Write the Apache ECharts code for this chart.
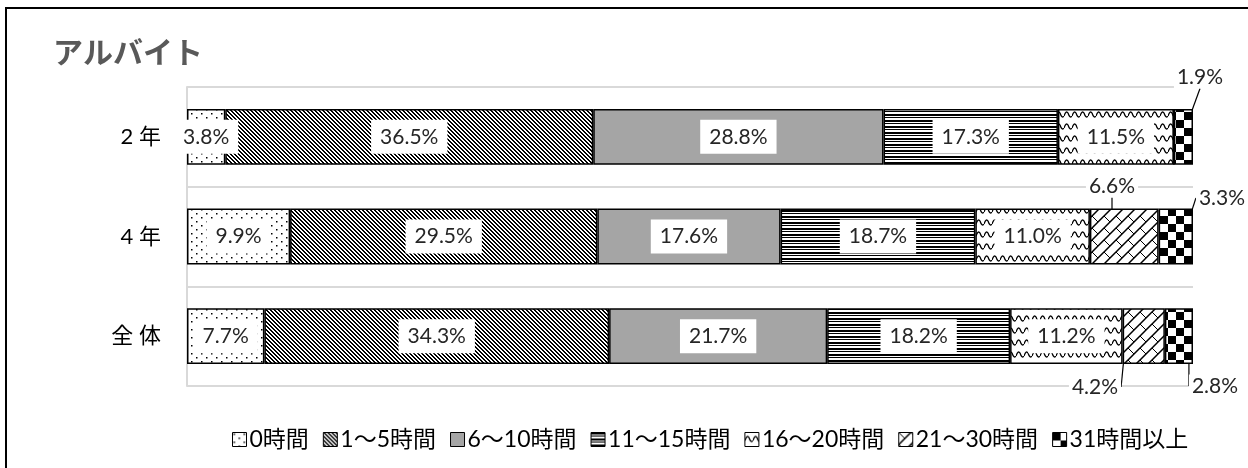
<!DOCTYPE html>
<html>
<head>
<meta charset="utf-8">
<script src="https://cdn.jsdelivr.net/npm/echarts@6/dist/echarts.min.js"></script>
<style>
  html, body { margin: 0; padding: 0; background: #fff; }
  #main { width: 1248px; height: 468px; }
</style>
</head>
<body>
<div id="main"></div>
<script>
// 集計値（%）
var categories = ['2年', '4年', '全体'];
var seriesNames = ['0時間', '1〜5時間', '6〜10時間', '11〜15時間', '16〜20時間', '21〜30時間', '31時間以上'];
var h0 = [3.8, 9.9, 7.7];
var h1to5 = [36.5, 29.5, 34.3];
var h6to10 = [28.8, 17.6, 21.7];
var h11to15 = [17.3, 18.7, 18.2];
var h16to20 = [11.5, 11.0, 11.2];
var h21to30 = [0, 6.6, 4.2];
var h31over = [1.9, 3.3, 2.8];
var allValues = [h0, h1to5, h6to10, h11to15, h16to20, h21to30, h31over];

// 外側に出すラベルの位置 (seriesIndex-dataIndex)
var outsidePos = {
    '6-0': [1200, 77],
    '5-1': [1112, 186],
    '6-1': [1222, 198],
    '5-2': [1095, 387],
    '6-2': [1215, 386]
};

// 模様の作成
function makeCanvas(w, h, draw) {
    var c = document.createElement('canvas');
    c.width = w; c.height = h;
    var ctx = c.getContext('2d');
    ctx.fillStyle = '#fff';
    ctx.fillRect(0, 0, w, h);
    ctx.fillStyle = '#000';
    ctx.strokeStyle = '#000';
    draw(ctx);
    return { image: c, repeat: 'repeat' };
}
var patterns = [
    // 点
    makeCanvas(10, 8, function (ctx) {
        ctx.fillRect(1, 1, 1.5, 1.5);
        ctx.fillRect(6, 5, 1.5, 1.5);
    }),
    // 斜線
    makeCanvas(4, 4, function (ctx) {
        for (var i = 0; i < 4; i++) {
            ctx.fillRect(i, i, 1, 1);
            ctx.fillRect((i + 1) % 4, i, 1, 1);
        }
    }),
    '#a5a5a5',
    // 横線
    makeCanvas(4, 6, function (ctx) {
        ctx.fillRect(0, 0, 4, 2);
        ctx.fillRect(0, 3, 4, 1);
    }),
    // 波線
    makeCanvas(8, 12, function (ctx) {
        ctx.lineWidth = 1.3;
        ctx.beginPath();
        ctx.moveTo(0, 8);
        ctx.quadraticCurveTo(2, 2, 4, 5);
        ctx.quadraticCurveTo(6, 11, 8, 8);
        ctx.stroke();
    }),
    // 格子斜線
    makeCanvas(12, 12, function (ctx) {
        ctx.lineWidth = 1.5;
        ctx.beginPath();
        ctx.moveTo(-1, 13); ctx.lineTo(13, -1);
        ctx.moveTo(-1, 1); ctx.lineTo(1, -1);
        ctx.moveTo(11, 13); ctx.lineTo(13, 11);
        ctx.stroke();
        ctx.lineWidth = 1;
        ctx.beginPath();
        ctx.moveTo(0, 0); ctx.lineTo(6, 6);
        ctx.stroke();
    }),
    // 市松
    makeCanvas(16, 16, function (ctx) {
        ctx.fillRect(0, 0, 8, 8);
        ctx.fillRect(8, 8, 8, 8);
    })
];

var rowSum = categories.map(function (c, i) {
    var s = 0;
    allValues.forEach(function (arr) { s += arr[i]; });
    return s;
});

var fontFamily = "Lato, 'Noto Sans CJK JP', sans-serif";

var series = seriesNames.map(function (name, si) {
    var data = categories.map(function (c, ci) {
        var raw = allValues[si][ci];
        var item = { value: raw / rowSum[ci] * 100 };
        if (raw === 0) {
            item.label = { show: false };
        } else if (outsidePos[si + '-' + ci]) {
            item.labelLine = { show: true };
            item.label = { padding: [1, 3] };
        }
        return item;
    });
    return {
        name: name,
        type: 'bar',
        stack: 'total',
        barWidth: '56%',
        data: data,
        itemStyle: { color: patterns[si], borderColor: '#000', borderWidth: 1.5 },
        label: {
            show: true,
            position: 'inside',
            fontFamily: fontFamily,
            fontSize: 21,
            color: '#262626',
            backgroundColor: '#fff',
            padding: [7, 9, 6, 9],
            formatter: function (p) {
                return allValues[p.seriesIndex][p.dataIndex].toFixed(1) + '%';
            }
        },
        labelLine: { show: false, lineStyle: { color: '#000', width: 1.2 } },
        labelLayout: function (p) {
            var pos = outsidePos[p.seriesIndex + '-' + p.dataIndex];
            if (!pos) return {};
            return { x: pos[0], y: pos[1], align: 'center', verticalAlign: 'middle' };
        },
        emphasis: { disabled: true }
    };
});

var chart = echarts.init(document.getElementById('main'));
chart.setOption({
    animation: false,
    backgroundColor: '#fff',
    title: {
        text: 'アルバイト',
        left: 48,
        top: 33,
        textStyle: { fontFamily: fontFamily, fontSize: 30, fontWeight: 'bold', color: '#595959' }
    },
    graphic: [{
        type: 'rect',
        shape: { x: 6, y: 8, width: 1400, height: 600 },
        style: { fill: null, stroke: '#000', lineWidth: 2 },
        silent: true
    }],
    legend: {
        left: 227,
        top: 423,
        itemWidth: 14,
        itemHeight: 14,
        itemGap: 14,
        icon: 'rect',
        textStyle: { fontFamily: fontFamily, fontSize: 23, color: '#000', padding: [0, 0, 0, -2] },
        itemStyle: { borderColor: '#000', borderWidth: 1 }
    },
    grid: { left: 187, right: 55, top: 87, bottom: 82, containLabel: false },
    xAxis: {
        type: 'value', min: 0, max: 100, show: false
    },
    yAxis: {
        type: 'category',
        data: categories,
        inverse: true,
        axisLine: { show: true, lineStyle: { color: '#d9d9d9', width: 2 } },
        axisTick: { show: false },
        splitLine: { show: true, lineStyle: { color: '#d9d9d9', width: 2 } },
        axisLabel: {
            fontFamily: fontFamily, fontSize: 22, color: '#000', margin: 26,
            formatter: function (v) { return v.split('').join(' '); }
        }
    },
    series: series
});
</script>
</body>
</html>
